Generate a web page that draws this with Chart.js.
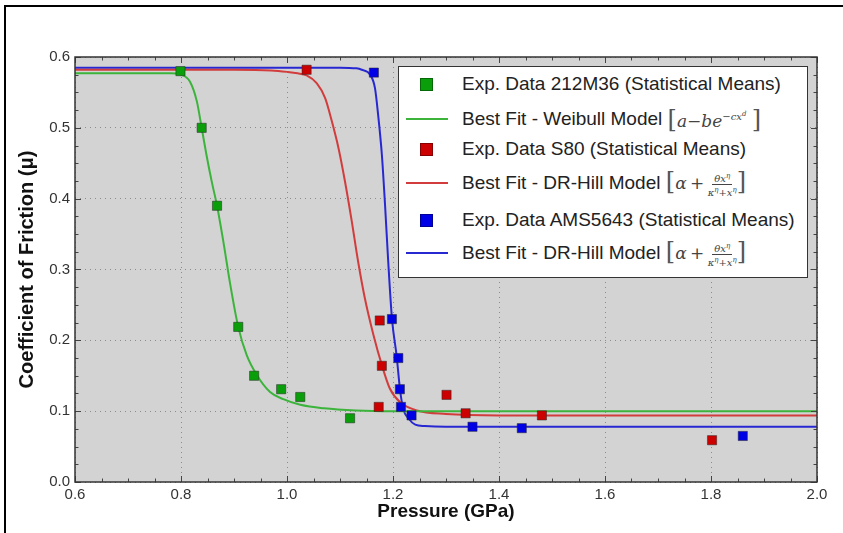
<!DOCTYPE html>
<html>
<head>
<meta charset="utf-8">
<script src="https://cdn.jsdelivr.net/npm/chart.js@4"></script>
<style>
  body { margin: 0; background: #fff; }
  #wrap { position: relative; width: 843px; height: 533px; overflow: hidden; }
  #frame { position: absolute; left: 4px; top: 5px; width: 900px; height: 600px; border-left: 2px solid #000; border-top: 2px solid #000; }
  #legend { position: absolute; left: 398px; top: 66px; width: 408px; height: 210px; background: #fff; border: 1px solid #333;
            font-family: "Liberation Sans", Arial, sans-serif; font-size: 19px; color: #222; }
  .row { position: absolute; left: 0; height: 30px; display: flex; align-items: center; white-space: nowrap; }
  .key { width: 63px; position: relative; height: 30px; }
  .sq { position: absolute; left: 21px; top: 9px; width: 11px; height: 11px; border: 1px solid rgba(0,0,0,0.35); }
  .ln { position: absolute; left: 7px; top: 14px; width: 42px; height: 2px; }
  .m { font-family: "DejaVu Serif", "Liberation Serif", serif; font-style: italic; color: #444; font-size: 17px; }
  .br { font-style: normal; font-size: 24px; font-weight: 300; color: #555; }
  .frac { display: inline-flex; flex-direction: column; align-items: center; font-size: 10px; vertical-align: middle; line-height: 11px; }
  .frac .num { border-bottom: 1px solid #444; padding: 0 2px; }
</style>
</head>
<body>
<div id="wrap">
  <canvas id="chart" width="843" height="533"></canvas>
  <div id="frame"></div>
  <div id="legend">
    <div class="row" style="top:2px"><div class="key"><div class="sq" style="background:#0a9e0a"></div></div><span>Exp. Data 212M36 (Statistical Means)</span></div>
    <div class="row" style="top:37px"><div class="key"><div class="ln" style="background:#3cb43c"></div></div><span>Best Fit - Weibull Model&nbsp;</span><span class="m"><span class="br">[</span>a&minus;be<sup style="font-size:10px">&minus;cx<sup style="font-size:7px">d</sup></sup>&nbsp;<span class="br">]</span></span></div>
    <div class="row" style="top:67px"><div class="key"><div class="sq" style="background:#cc0000"></div></div><span>Exp. Data S80 (Statistical Means)</span></div>
    <div class="row" style="top:101px"><div class="key"><div class="ln" style="background:#d23c3c"></div></div><span>Best Fit - DR-Hill Model&nbsp;</span><span class="m"><span class="br">[</span>&alpha;&thinsp;+&thinsp;<span class="frac"><span class="num">&theta;x<sup style="font-size:7px">&eta;</sup></span><span>&kappa;<sup style="font-size:7px">&eta;</sup>+x<sup style="font-size:7px">&eta;</sup></span></span><span class="br">]</span></span></div>
    <div class="row" style="top:138px"><div class="key"><div class="sq" style="background:#0000e6"></div></div><span>Exp. Data AMS5643 (Statistical Means)</span></div>
    <div class="row" style="top:171px"><div class="key"><div class="ln" style="background:#2828d2"></div></div><span>Best Fit - DR-Hill Model&nbsp;</span><span class="m"><span class="br">[</span>&alpha;&thinsp;+&thinsp;<span class="frac"><span class="num">&theta;x<sup style="font-size:7px">&eta;</sup></span><span>&kappa;<sup style="font-size:7px">&eta;</sup>+x<sup style="font-size:7px">&eta;</sup></span></span><span class="br">]</span></span></div>
  </div>
</div>
<script>
// experimental points (pressure GPa, coefficient of friction)
const greenX = [0.799, 0.839, 0.868, 0.908, 0.938, 0.989, 1.025, 1.119];
const greenY = [0.580, 0.500, 0.390, 0.219, 0.150, 0.131, 0.120, 0.090];
const redX = [1.037, 1.175, 1.179, 1.173, 1.301, 1.337, 1.481, 1.802];
const redY = [0.582, 0.228, 0.164, 0.106, 0.123, 0.097, 0.094, 0.059];
const blueX = [1.164, 1.198, 1.210, 1.213, 1.215, 1.235, 1.350, 1.443, 1.860];
const blueY = [0.578, 0.230, 0.175, 0.131, 0.106, 0.094, 0.078, 0.076, 0.065];

// fitted curves
const greenFitX = [0.6, 0.7, 0.78, 0.8, 0.817, 0.83, 0.839, 0.848, 0.858, 0.868, 0.88, 0.892, 0.908, 0.924, 0.943, 0.968, 0.993, 1.025, 1.07, 1.13, 1.2, 1.4, 1.7, 2.0];
const greenFitY = [0.577, 0.577, 0.577, 0.575, 0.565, 0.537, 0.500, 0.462, 0.424, 0.390, 0.339, 0.283, 0.219, 0.179, 0.151, 0.127, 0.117, 0.109, 0.104, 0.101, 0.100, 0.100, 0.100, 0.100];
const redFitX = [0.6, 0.9, 0.97, 1.0, 1.02, 1.037, 1.056, 1.072, 1.084, 1.097, 1.109, 1.122, 1.134, 1.147, 1.163, 1.179, 1.194, 1.213, 1.245, 1.3, 1.4, 1.6, 2.0];
const redFitY = [0.582, 0.582, 0.581, 0.579, 0.577, 0.574, 0.563, 0.542, 0.511, 0.472, 0.426, 0.369, 0.312, 0.259, 0.208, 0.165, 0.132, 0.113, 0.101, 0.096, 0.094, 0.094, 0.094];
const blueFitX = [0.6, 1.1, 1.131, 1.141, 1.157, 1.166, 1.172, 1.179, 1.185, 1.191, 1.198, 1.207, 1.213, 1.219, 1.229, 1.242, 1.26, 1.3, 1.5, 2.0];
const blueFitY = [0.585, 0.585, 0.584, 0.582, 0.575, 0.556, 0.518, 0.462, 0.391, 0.311, 0.231, 0.177, 0.132, 0.104, 0.090, 0.081, 0.079, 0.078, 0.078, 0.078];

const xTicks = [0.6, 0.8, 1.0, 1.2, 1.4, 1.6, 1.8, 2.0];
const yTicks = [0.0, 0.1, 0.2, 0.3, 0.4, 0.5, 0.6];

const pts = (xs, ys) => xs.map((x, i) => ({ x: x, y: ys[i] }));

const plotBg = {
    id: "plotBg",
    beforeDraw(chart) {
        const { ctx, chartArea: a } = chart;
        ctx.save();
        ctx.fillStyle = "#d3d3d3";
        ctx.fillRect(a.left, a.top, a.right - a.left, a.bottom - a.top);
        ctx.restore();
    },
    afterDatasetsDraw(chart) {
        const { ctx, chartArea: a, scales } = chart;
        ctx.save();
        ctx.strokeStyle = "#444";
        ctx.lineWidth = 1;
        // inward ticks on all four sides
        for (let i = 0; i <= 28; i++) {
            const v = 0.6 + i * 0.05;
            const px = Math.round(scales.x.getPixelForValue(v)) + 0.5;
            const len = i % 4 === 0 ? 6 : 3.5;
            ctx.beginPath();
            ctx.moveTo(px, a.bottom); ctx.lineTo(px, a.bottom - len);
            ctx.moveTo(px, a.top); ctx.lineTo(px, a.top + len);
            ctx.stroke();
        }
        for (let i = 0; i <= 24; i++) {
            const v = i * 0.025;
            const py = Math.round(scales.y.getPixelForValue(v)) + 0.5;
            const len = i % 4 === 0 ? 6 : 3.5;
            ctx.beginPath();
            ctx.moveTo(a.left, py); ctx.lineTo(a.left + len, py);
            ctx.moveTo(a.right, py); ctx.lineTo(a.right - len, py);
            ctx.stroke();
        }
        ctx.lineWidth = 1.5;
        ctx.strokeStyle = "#333";
        ctx.strokeRect(a.left, a.top, a.right - a.left, a.bottom - a.top);
        ctx.restore();
    }
};

const lineSet = (label, xs, ys, color) => ({
    label: label,
    data: pts(xs, ys),
    showLine: true,
    borderColor: color,
    borderWidth: 2,
    pointRadius: 0,
    cubicInterpolationMode: "monotone",
    order: 2
});
const pointSet = (label, xs, ys, color) => ({
    label: label,
    data: pts(xs, ys),
    showLine: false,
    pointStyle: "rect",
    pointRadius: 6.5,
    backgroundColor: color,
    borderColor: "rgba(40,40,40,0.5)",
    borderWidth: 1,
    order: 1
});

new Chart(document.getElementById("chart"), {
    type: "scatter",
    data: {
        datasets: [
            lineSet("Best Fit - Weibull Model", greenFitX, greenFitY, "#3cb43c"),
            lineSet("Best Fit - DR-Hill Model (S80)", redFitX, redFitY, "#d23c3c"),
            lineSet("Best Fit - DR-Hill Model (AMS5643)", blueFitX, blueFitY, "#2828d2"),
            pointSet("Exp. Data 212M36 (Statistical Means)", greenX, greenY, "#0a9e0a"),
            pointSet("Exp. Data S80 (Statistical Means)", redX, redY, "#cc0000"),
            pointSet("Exp. Data AMS5643 (Statistical Means)", blueX, blueY, "#0000e6")
        ]
    },
    options: {
        responsive: false,
        animation: false,
        layout: { padding: { left: 0, top: 57, right: 26, bottom: 0 } },
        plugins: {
            legend: { display: false },
            tooltip: { enabled: false }
        },
        scales: {
            x: {
                type: "linear",
                min: 0.6,
                max: 2.0,
                afterBuildTicks: (s) => { s.ticks = xTicks.map(v => ({ value: v })); },
                afterFit: (s) => { s.height = 51; },
                ticks: {
                    padding: 4,
                    color: "#333",
                    font: { family: "Liberation Sans Narrow, Liberation Sans, Arial", size: 15 },
                    callback: (v) => Number(v).toFixed(1)
                },
                grid: { color: "#8c8c8c", drawTicks: false, lineWidth: 1 },
                border: { display: false, dash: [1, 4] },
                title: {
                    display: true,
                    text: "Pressure (GPa)",
                    color: "#111",
                    padding: { top: 0, bottom: 10 },
                    font: { family: "Liberation Sans Narrow, Liberation Sans, Arial", size: 19, weight: "bold" }
                }
            },
            y: {
                type: "linear",
                min: 0,
                max: 0.6,
                afterBuildTicks: (s) => { s.ticks = yTicks.map(v => ({ value: v })); },
                afterFit: (s) => { s.width = 75; },
                ticks: {
                    padding: 5,
                    color: "#333",
                    font: { family: "Liberation Sans, Arial", size: 15 },
                    callback: (v) => Number(v).toFixed(1)
                },
                grid: { color: "#8c8c8c", drawTicks: false, lineWidth: 1 },
                border: { display: false, dash: [1, 4] },
                title: {
                    display: true,
                    text: "Coefficient of Friction (\u03bc)",
                    color: "#111",
                    padding: { top: 15, bottom: 0 },
                    font: { family: "Liberation Sans, Arial", size: 20, weight: "bold" }
                }
            }
        }
    },
    plugins: [plotBg]
});
</script>
</body>
</html>
